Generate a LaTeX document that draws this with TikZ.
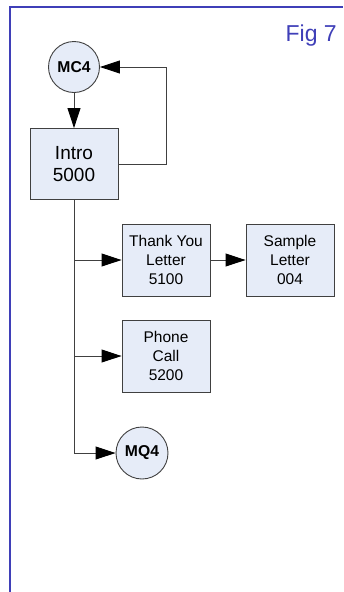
\documentclass[tikz,border=0pt]{standalone}
\usepackage{fontspec}
\setmainfont{Liberation Sans}
\usepackage{tikz}
\usetikzlibrary{arrows.meta,positioning,calc}
\definecolor{framblue}{HTML}{3F3FB8}
\definecolor{stepfill}{HTML}{E6ECF8}
\definecolor{linegrey}{HTML}{404040}
\tikzset{
  stepbox/.style={draw=linegrey, line width=0.9pt, fill=stepfill, align=center,
                  minimum width=88pt, minimum height=72pt, inner sep=2pt,
                  font=\fontsize{15.5}{19}\selectfont},
  jump/.style={circle, draw=linegrey, line width=0.9pt, fill=stepfill,
               minimum size=51pt, inner sep=0pt,
               font=\fontsize{15.7}{18}\selectfont\bfseries},
  flow/.style={-{Triangle[length=20pt,width=13pt,black]}, line width=0.9pt,
               draw=linegrey},
  link/.style={line width=0.9pt, draw=linegrey},
}

\begin{document}
\begin{tikzpicture}[x=1pt, y=-1pt]
\useasboundingbox (0,0) rectangle (343,592);

% ========================= frame & title =================================
\draw[framblue, line width=2pt] (10,592) -- (10,7) -- (343,7);
\node[font=\fontsize{23}{26}\selectfont, text=framblue, anchor=base east,
      inner sep=0pt] at (337,41) (fig) {Fig 7};

% ========================= steps =========================================
\node[jump]                                      at (74, 67) (mc4)    {MC4};
\node[stepbox, font=\fontsize{19}{22.7}\selectfont,
      minimum height=71pt]                       at (74,164) (intro)  {Intro\\5000};
\node[stepbox]                                   at (166,260) (thank) {Thank You\\Letter\\5100};
\node[stepbox]                                   at (290,260) (sample){Sample\\Letter\\004};
\node[stepbox]                                   at (166,356) (phone) {Phone\\Call\\5200};
\node[jump, minimum size=52pt]                   at (142,453) (mq4)   {MQ4};

\coordinate (back) at (166,67);

% ========================= connectors ====================================
\draw[flow] (mc4) -- (intro);
\draw[flow] (intro.east) -| (back) -- (mc4.east);

\draw[flow] (intro.south) |- (mq4.west);
\draw[flow] (intro.south |- thank.west) -- (thank.west);
\draw[flow] (intro.south |- phone.west) -- (phone.west);
\draw[flow] (thank) -- (sample);
\end{tikzpicture}
\end{document}
